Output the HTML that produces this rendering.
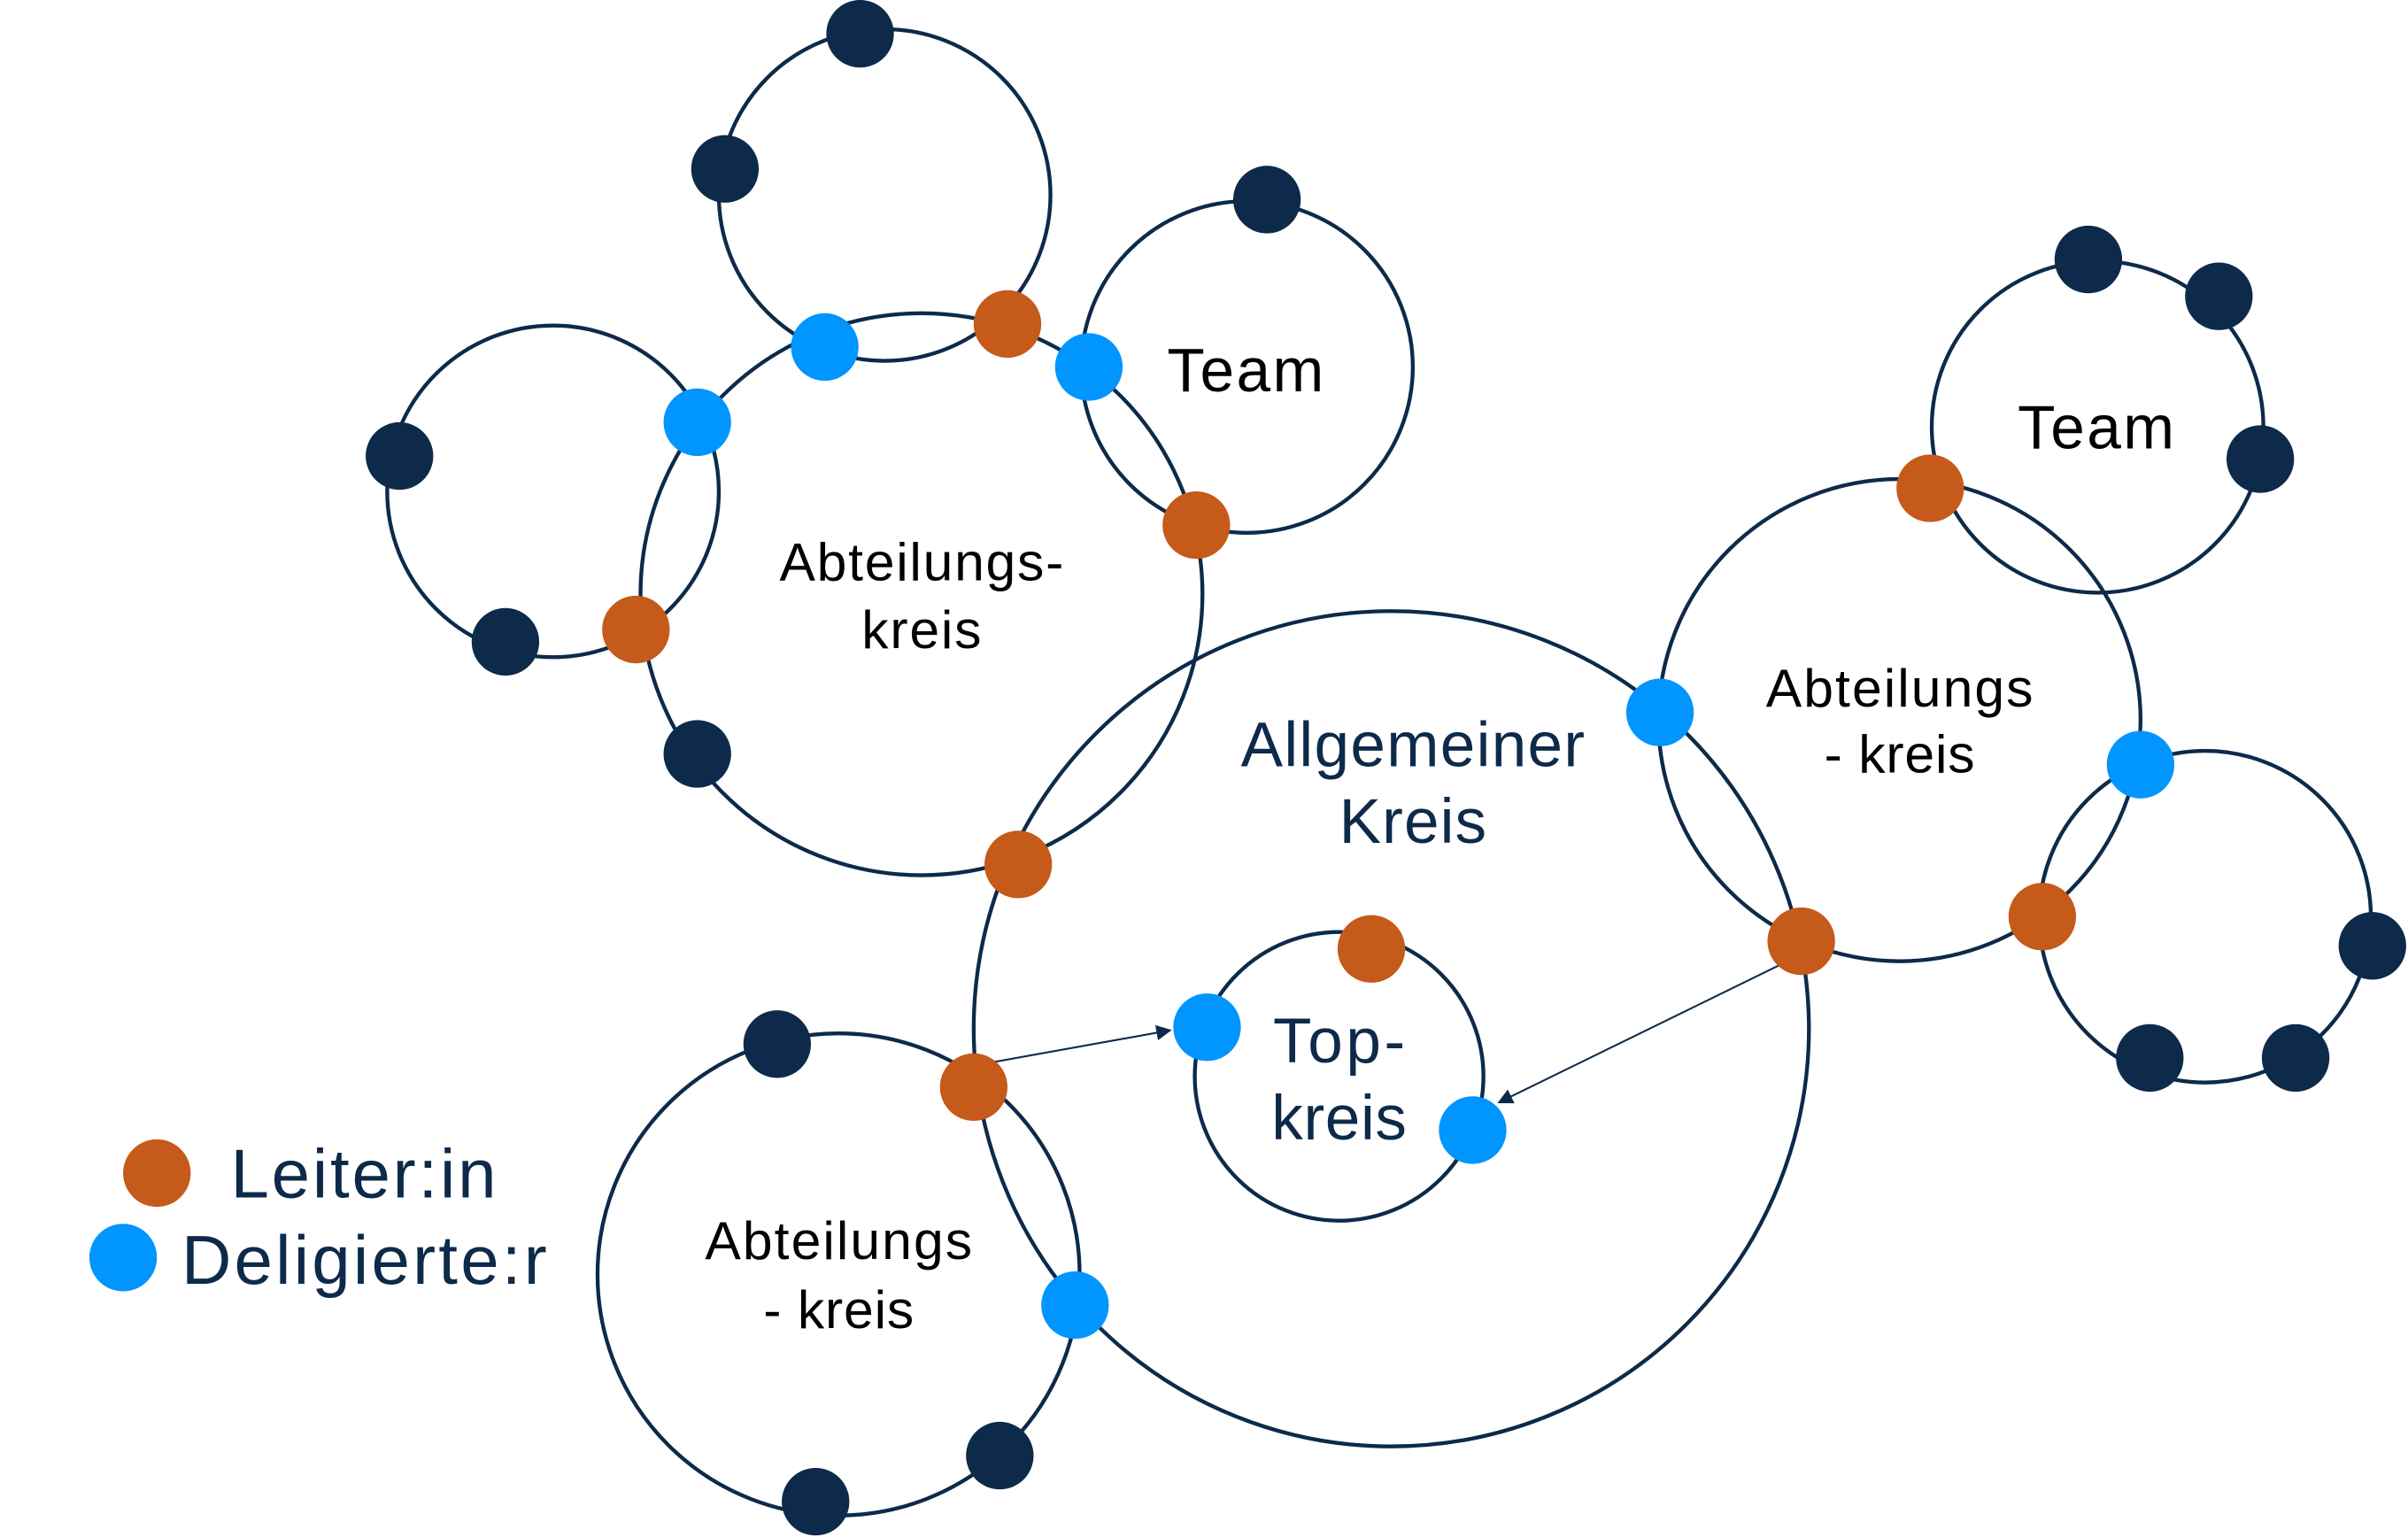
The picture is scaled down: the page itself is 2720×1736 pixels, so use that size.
<!DOCTYPE html>
<html><head><meta charset="utf-8"><style>
html,body{margin:0;padding:0;background:#fff;width:2720px;height:1736px;overflow:hidden}
svg{display:block}
text{font-family:"Liberation Sans",sans-serif;text-anchor:middle}
</style></head><body>
<svg width="2720" height="1736" viewBox="0 0 1568 1001" xmlns="http://www.w3.org/2000/svg">
<defs><marker id="a" markerWidth="10" markerHeight="10" refX="9" refY="5" orient="auto" markerUnits="userSpaceOnUse"><path d="M0,0 L10,5 L0,10 z" fill="#0d2a4a"/></marker></defs>
<g fill="none" stroke="#0d2a4a" stroke-width="2.5">
<circle cx="576" cy="127" r="108"/>
<circle cx="812" cy="239" r="108"/>
<circle cx="360" cy="320" r="108"/>
<circle cx="600" cy="387" r="183"/>
<circle cx="906" cy="670" r="272"/>
<circle cx="872" cy="701" r="94"/>
<circle cx="546" cy="830" r="157"/>
<circle cx="1237" cy="469" r="157"/>
<circle cx="1366" cy="278" r="108"/>
<circle cx="1436" cy="597" r="108"/>
</g>
<g stroke="#0d2a4a" stroke-width="1.2">
<line x1="634" y1="694" x2="762" y2="671" marker-end="url(#a)"/>
<line x1="1160" y1="628" x2="976" y2="718" marker-end="url(#a)"/>
</g>
<g fill="#0d2a4a">
<circle cx="560" cy="22" r="22"/><circle cx="472" cy="110" r="22"/><circle cx="825" cy="130" r="22"/>
<circle cx="260" cy="297" r="22"/><circle cx="329" cy="418" r="22"/><circle cx="454" cy="491" r="22"/>
<circle cx="1360" cy="169" r="22"/><circle cx="1445" cy="193" r="22"/><circle cx="1472" cy="299" r="22"/>
<circle cx="1545" cy="616" r="22"/><circle cx="1400" cy="689" r="22"/><circle cx="1495" cy="689" r="22"/>
<circle cx="506" cy="680" r="22"/><circle cx="651" cy="948" r="22"/><circle cx="531" cy="978" r="22"/>
</g>
<g fill="#c55a1a">
<circle cx="656" cy="211" r="22"/><circle cx="779" cy="342" r="22"/><circle cx="414" cy="410" r="22"/>
<circle cx="663" cy="563" r="22"/><circle cx="634" cy="708" r="22"/><circle cx="893" cy="618" r="22"/>
<circle cx="1173" cy="613" r="22"/><circle cx="1257" cy="318" r="22"/><circle cx="1330" cy="597" r="22"/>
<circle cx="102" cy="764" r="22"/>
</g>
<g fill="#0095ff">
<circle cx="537" cy="226" r="22"/><circle cx="709" cy="239" r="22"/><circle cx="454" cy="275" r="22"/>
<circle cx="1081" cy="464" r="22"/><circle cx="1394" cy="498" r="22"/><circle cx="786" cy="669" r="22"/>
<circle cx="959" cy="736" r="22"/><circle cx="700" cy="850" r="22"/>
<circle cx="80" cy="819" r="22"/>
</g>
<g fill="#000">
<text x="811" y="255" font-size="40" textLength="102">Team</text>
<text x="1365" y="292" font-size="40" textLength="102">Team</text>
<text x="600" y="378" font-size="35" textLength="185">Abteilungs-</text>
<text x="600" y="422" font-size="35" textLength="78">kreis</text>
<text x="546" y="820" font-size="35" textLength="174">Abteilungs</text>
<text x="546" y="865" font-size="35" textLength="98">- kreis</text>
<text x="1237" y="460" font-size="35" textLength="174">Abteilungs</text>
<text x="1237" y="503" font-size="35" textLength="98">- kreis</text>
</g>
<g fill="#0d2a4a">
<text x="920" y="499" font-size="41" textLength="224">Allgemeiner</text>
<text x="920" y="549" font-size="41" textLength="96">Kreis</text>
<text x="872" y="692" font-size="41" textLength="86">Top-</text>
<text x="872" y="742" font-size="41" textLength="88">kreis</text>
<text x="150" y="780" font-size="45" style="text-anchor:start" textLength="173">Leiter:in</text>
<text x="118" y="836" font-size="45" style="text-anchor:start" textLength="238">Deligierte:r</text>
</g>
</svg>
</body></html>
